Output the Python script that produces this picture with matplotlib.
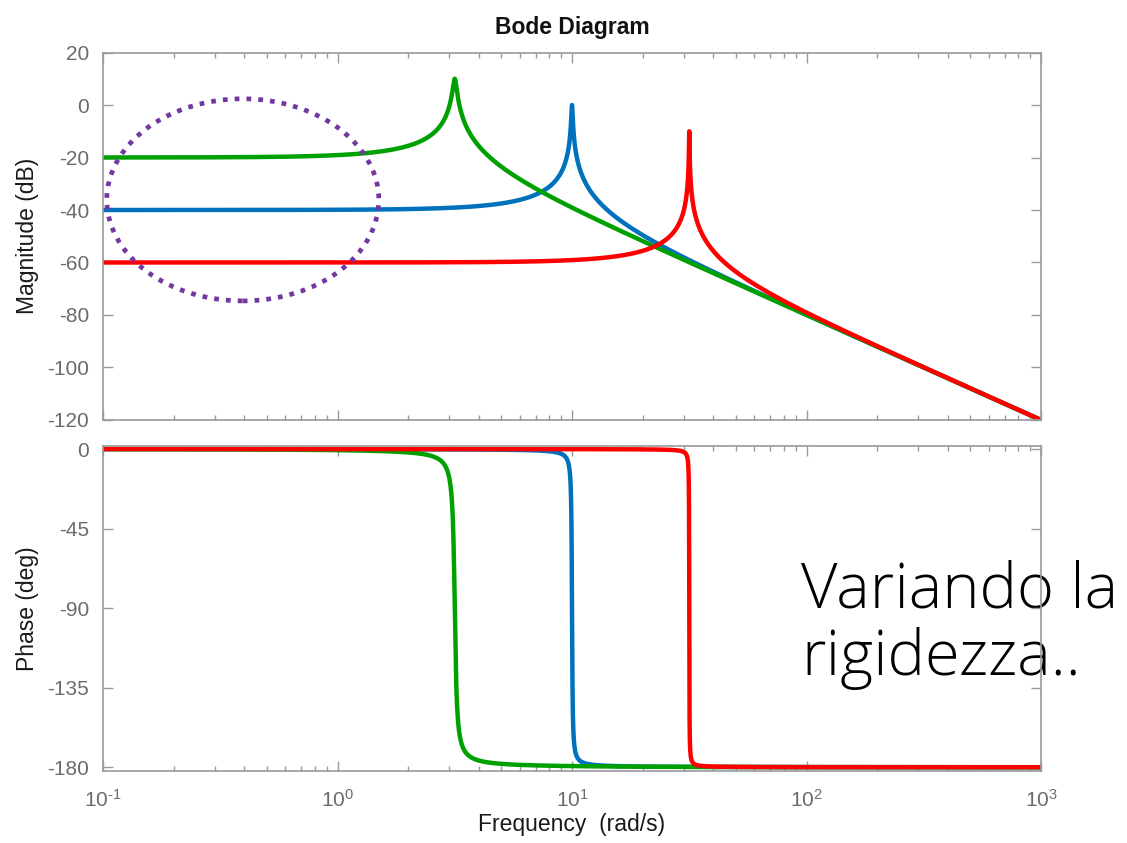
import matplotlib
matplotlib.use("Agg")
import matplotlib.pyplot as plt
import numpy as np
from matplotlib.patches import Ellipse
from matplotlib.ticker import FixedLocator, LogLocator, NullFormatter

# Mass-spring-damper G(s) = 1 / (m s^2 + c s + k), three stiffness values
mass = 1.0
damping = 0.1
stiffness = [100.0, 10.0, 1000.0]
line_colors = ["#0072BD", "#00A000", "#FF0000"]

freq_range = (1e-1, 1e3)
mag_ticks = [20, 0, -20, -40, -60, -80, -100, -120]
phase_ticks = [0, -45, -90, -135, -180]
freq_labels = [r"$10^{\text{-}1}$", "$10^{0}$", "$10^{1}$", "$10^{2}$", "$10^{3}$"]

TICK_GRAY = "#6b6b6b"
SPINE_GRAY = "#9a9a9a"

plt.rcParams["font.family"] = ["Liberation Sans", "DejaVu Sans"]
plt.rcParams["axes.unicode_minus"] = False
plt.rcParams["mathtext.fontset"] = "custom"
plt.rcParams["mathtext.rm"] = "Liberation Sans"
plt.rcParams["mathtext.it"] = "Liberation Sans"
plt.rcParams["mathtext.default"] = "regular"

w = np.logspace(np.log10(freq_range[0]), np.log10(freq_range[1]), 40000)
s = 1j * w

fig = plt.figure(figsize=(11.27, 8.43), dpi=100)
ax_mag = fig.add_axes([0.0914, 0.5018, 0.8323, 0.4359])
ax_ph = fig.add_axes([0.0914, 0.0857, 0.8323, 0.3852])

for k, col in zip(stiffness, line_colors):
    G = 1.0 / (mass * s**2 + damping * s + k)
    mag_db = 20 * np.log10(np.abs(G))
    phase = np.degrees(np.unwrap(np.angle(G)))
    ax_mag.plot(w, mag_db, color=col, lw=3.2, solid_capstyle="round")
    ax_ph.plot(w, phase, color=col, lw=3.2, solid_capstyle="round")

for ax in (ax_mag, ax_ph):
    ax.set_xscale("log")
    ax.set_xlim(*freq_range)
    ax.xaxis.set_major_locator(FixedLocator(np.logspace(-1, 3, 5)))
    ax.xaxis.set_minor_locator(LogLocator(base=10, subs=np.arange(2, 10), numticks=50))
    ax.xaxis.set_minor_formatter(NullFormatter())
    ax.tick_params(which="both", direction="in", top=True, right=True,
                   colors=SPINE_GRAY, labelcolor=TICK_GRAY, labelsize=15, width=1.0)
    ax.tick_params(which="major", length=7)
    ax.tick_params(which="minor", length=3.5)
    ax.tick_params(axis="y", pad=10)
    for sp in ax.spines.values():
        sp.set_color(SPINE_GRAY)
        sp.set_linewidth(1.2)

ax_mag.set_ylim(-120, 20)
ax_mag.yaxis.set_major_locator(FixedLocator(mag_ticks))
ax_mag.tick_params(axis="x", labelbottom=False)
ax_mag.set_ylabel("Magnitude (dB)", fontsize=16.5, color="#1a1a1a", labelpad=6)
ax_mag.set_title("Bode Diagram", fontsize=16.5, fontweight="bold", color="#111111", pad=13)

ax_ph.set_ylim(-182, 1.7)
ax_ph.yaxis.set_major_locator(FixedLocator(phase_ticks))
ax_ph.set_xticklabels(freq_labels)
ax_ph.set_ylabel("Phase (deg)", fontsize=16.5, color="#1a1a1a", labelpad=6)
ax_ph.set_xlabel("Frequency  (rad/s)", fontsize=16.5, color="#1a1a1a", labelpad=2)
ax_ph.tick_params(axis="x", which="major", pad=13)

# dotted ring around the low-frequency plateaus
ring = Ellipse((0.149, 0.599), 0.29, 0.55, transform=ax_mag.transAxes,
               fill=False, edgecolor="#7238A0", lw=3.4,
               linestyle=(0, (1.0, 1.5)), capstyle="butt", zorder=4)
ax_mag.add_patch(ring)

ax_ph.text(0.744, 0.65, "Variando la\nrigidezza..", transform=ax_ph.transAxes,
           fontsize=45.5, fontweight="light", family=["Open Sans", "DejaVu Sans"],
           color="black", ha="left", va="top", linespacing=1.1,
           clip_on=False, zorder=1)

fig.savefig("out.png", dpi=100)
